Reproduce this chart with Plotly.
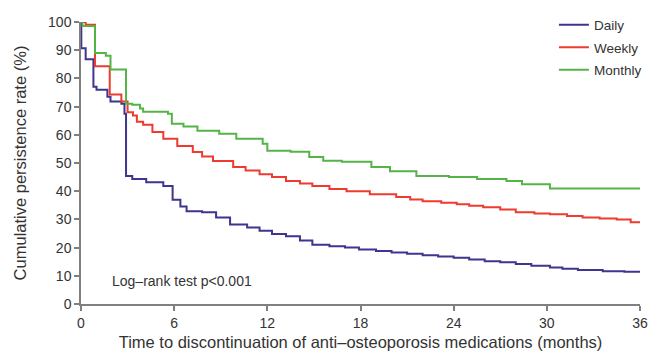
import plotly.graph_objects as go

# Data
daily_t = [0, 0.02, 0.3, 0.8, 1.0, 1.7, 1.9, 2.6, 2.8, 2.9, 3.3, 4.2, 5.3, 5.9, 6.4, 6.8, 7.8, 8.7, 9.6, 10.7, 11.5,
           12.3, 13.2, 14.1, 14.9, 16, 17.0, 17.9, 19, 20, 21, 22, 23, 24, 25, 26, 27, 28, 29, 30.2, 31, 32, 33.6,
           35, 36]
daily_v = [100, 90.7, 86.8, 77, 76, 73.5, 71.8, 71, 67.5, 45.4, 44.3, 43.2, 41.8, 37, 34.6, 32.9, 32.5, 30.7, 28.2,
           27.1, 26, 24.8, 24, 22.5, 21, 20.5, 20, 19.3, 18.8, 18.3, 17.8, 17.3, 16.8, 16.4, 15.8, 15.2, 14.8, 14.2,
           13.6, 12.9, 12.5, 12.1, 11.6, 11.4, 11.4]

weekly_t = [0, 0.3, 0.9, 1.85, 2.6, 3.0, 3.35, 3.6, 4.0, 4.6, 5.3, 6.2, 7.2, 7.8, 8.5, 9.8, 10.6, 11.5, 12.3, 13.2,
            14.1, 14.9, 16, 17.1, 18.6, 20.3, 21.2, 22, 23.2, 24.2, 25.0, 25.9, 27, 28, 29.2, 30.2, 31.3, 32.3,
            33.4, 34.5, 35.4, 36]
weekly_v = [100, 99, 84.3, 74.3, 71.8, 68, 66.8, 64.6, 63.6, 61, 58.6, 56, 53.9, 52.3, 50.7, 48.6, 47.3, 46, 45,
            43.6, 42.7, 41.8, 40.8, 40, 38.9, 37.9, 37.1, 36.4, 35.9, 35.4, 34.8, 34.3, 33.5, 32.5, 32.1, 31.8,
            31.2, 30.7, 30.3, 30, 29, 29]

monthly_t = [0, 0.1, 0.9, 1.6, 1.9, 2.9, 3.3, 3.8, 4.0, 5.6, 5.85, 6.6, 7.5, 8.9, 10, 11.7, 12, 13.5, 14.7, 15.6,
             16.8, 18.7, 19.9, 21.6, 23.7, 25.5, 27.4, 28.4, 30.2, 36]
monthly_v = [100, 98.6, 89, 88, 83.2, 71, 70.7, 69.3, 68.2, 67.5, 63.9, 62.9, 61.4, 60.4, 58.6, 56.8, 54.3, 54,
             52.1, 50.8, 50.4, 48.6, 47.1, 45.4, 45, 44.3, 43.6, 42.5, 41, 41]

series_names = ["Daily", "Weekly", "Monthly"]
x_ticks = [0, 6, 12, 18, 24, 30, 36]
y_ticks = [0, 10, 20, 30, 40, 50, 60, 70, 80, 90, 100]

colors = ["#3d3590", "#ee3a2f", "#55b447"]

fig = go.Figure()
for name, t, v, c in zip(series_names, [daily_t, weekly_t, monthly_t], [daily_v, weekly_v, monthly_v], colors):
    fig.add_trace(go.Scatter(x=t, y=v, mode="lines", name=name, legendgroup=name,
                             line=dict(color=c, width=2, shape="hv"), cliponaxis=False))

fig.add_annotation(x=1.87, y=8, text="Log\u2013rank test p<0.001", showarrow=False,
                   xanchor="left", yanchor="middle", font=dict(size=14, color="#333"))

axis_common = dict(showgrid=False, zeroline=False, showline=True, linecolor="#808080", linewidth=1.5,
                   ticks="outside", ticklen=5, tickcolor="#808080", tickwidth=1.5, automargin=False,
                   tickfont=dict(size=14, color="#333"))

fig.update_xaxes(range=[0, 36], tickvals=x_ticks, ticklabelstandoff=0,
                 title=dict(text="Time to discontinuation of anti\u2013osteoporosis medications (months)",
                            font=dict(size=16.5, color="#333"), standoff=7),
                 **axis_common)
fig.update_yaxes(range=[0, 100], tickvals=y_ticks,
                 title=dict(text="Cumulative persistence rate (%)", font=dict(size=16.5, color="#333"), standoff=17),
                 **axis_common)

fig.update_layout(
    width=657, height=351,
    margin=dict(l=81, r=17, t=22, b=47, autoexpand=False),
    plot_bgcolor="white", paper_bgcolor="white",
    font=dict(family="Liberation Sans, Arial, sans-serif", color="#333"),
    legend=dict(x=0.846, y=0.973, yref="container", xanchor="left", yanchor="top", bgcolor="rgba(0,0,0,0)",
                font=dict(size=13.5, color="#333"), tracegroupgap=2, traceorder="grouped"),
)

fig.write_html("out.html")
